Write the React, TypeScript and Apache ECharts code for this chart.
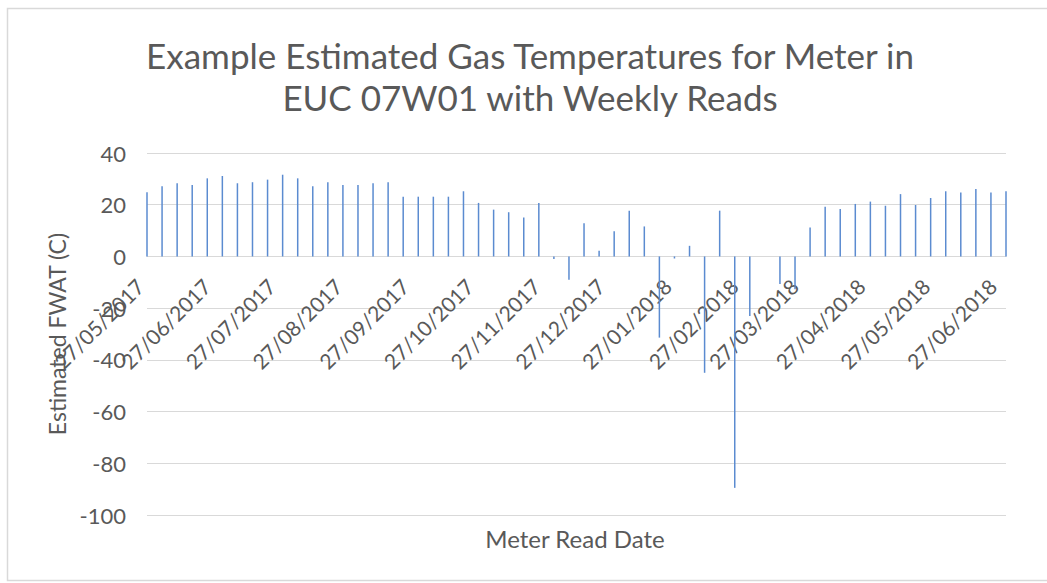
import React, { useEffect, useRef } from "react";
import * as echarts from "echarts";

// Weekly meter reads starting 27/05/2017 (one every 7 days)
const START_DATE = "2017-05-27";
const END_DATE = "2018-06-30";
const weeklyTemps: (number | null)[] = [
  24.8, 27.1, 28.3, 27.6, 30.2, 31.1, 28.3, 28.7, 29.7, 31.6,
  30.2, 27.1, 28.7, 27.6, 27.6, 28.3, 28.7, 23.1, 23.1, 23.1,
  23.1, 25.2, 20.7, 18.1, 17.1, 15.1, 20.7, -1.0, -9.0, 12.8,
  2.2, 9.7, 17.7, 11.6, -31.4, -0.8, 4.1, -45.0, 17.7, -89.5,
  -23.0, null, -10.7, -12.7, 11.2, 19.2, 18.3, 20.3, 21.2, 19.6,
  24.1, 19.9, 22.6, 25.2, 24.7, 26.1, 24.7, 25.2,
];
const titleLines = [
  "Example Estimated Gas Temperatures for Meter in",
  "EUC 07W01 with Weekly Reads",
];
const xAxisTitle = "Meter Read Date";
const yAxisTitle = "Estimated FWAT (C)";
const yMin = -100;
const yMax = 40;
const yStep = 20;

const pad = (n: number) => (n < 10 ? "0" + n : "" + n);
const fmt = (d: Date) =>
  pad(d.getUTCDate()) + "/" + pad(d.getUTCMonth() + 1) + "/" + d.getUTCFullYear();

function buildDays() {
  const days: string[] = [];
  const start = new Date(START_DATE + "T00:00:00Z");
  const end = new Date(END_DATE + "T00:00:00Z");
  for (let t = start.getTime(); t <= end.getTime(); t += 86400000) {
    days.push(fmt(new Date(t)));
  }
  return days;
}

const GRID_TOP = 153;
const GRID_BOTTOM = 68;
const H = 583;

export default function App() {
  const ref = useRef<HTMLDivElement>(null);
  useEffect(() => {
    if (!ref.current) return;
    const chart = echarts.init(ref.current, null, { renderer: "svg" });
    const days = buildDays();
    const data: (number | null)[] = days.map(() => null);
    weeklyTemps.forEach((v, i) => {
      const idx = i * 7;
      if (idx < data.length) data[idx] = v;
    });
    const font = "Lato";
    const grey = "#595959";
    const plotH = H - GRID_TOP - GRID_BOTTOM;
    const zeroOffset = -(plotH * (0 - yMin)) / (yMax - yMin);
    chart.setOption({
      animation: false,
      backgroundColor: "#ffffff",
      grid: {
        left: 147,
        right: 41,
        top: GRID_TOP,
        bottom: GRID_BOTTOM,
        containLabel: false,
        outerBoundsMode: "none",
      },
      xAxis: {
        type: "category",
        data: days,
        boundaryGap: false,
        position: "bottom",
        offset: zeroOffset,
        axisLine: { show: true, onZero: false, lineStyle: { color: "#d9d9d9", width: 1 } },
        axisTick: { show: false },
        splitLine: { show: false },
        axisLabel: {
          interval: (_i: number, v: string) => v.startsWith("27/"),
          rotate: 45,
          margin: 19,
          padding: [0, 10, 0, 0],
          color: grey,
          fontFamily: font,
          fontSize: 21,
        },
      },
      yAxis: {
        type: "value",
        min: yMin,
        max: yMax,
        interval: yStep,
        axisLine: { show: false },
        axisTick: { show: false },
        splitLine: { lineStyle: { color: "#d9d9d9", width: 1 } },
        axisLabel: { color: grey, fontFamily: font, fontSize: 22, margin: 21 },
      },
      series: [
        {
          type: "bar",
          data,
          barWidth: 1.5,
          itemStyle: { color: "#5b8bd0" },
        },
      ],
      graphic: [
        {
          type: "rect",
          shape: { x: 7.5, y: 8.5, width: 1060, height: 572 },
          style: { fill: "none", stroke: "#d9d9d9", lineWidth: 1.5 },
          silent: true,
        },
        {
          type: "text",
          x: 530,
          y: 55,
          style: {
            text: titleLines[0],
            fill: grey,
            font: "35px Lato",
            textAlign: "center",
            textVerticalAlign: "middle",
          },
        },
        {
          type: "text",
          x: 530,
          y: 97,
          style: {
            text: titleLines[1],
            fill: grey,
            font: "35px Lato",
            textAlign: "center",
            textVerticalAlign: "middle",
          },
        },
        {
          type: "text",
          x: 575,
          y: 538,
          style: {
            text: xAxisTitle,
            fill: grey,
            font: "24px Lato",
            textAlign: "center",
            textVerticalAlign: "middle",
          },
        },
        {
          type: "text",
          x: 57,
          y: 334,
          rotation: Math.PI / 2,
          style: {
            text: yAxisTitle,
            fill: grey,
            font: "23px Lato",
            textAlign: "center",
            textVerticalAlign: "middle",
          },
        },
      ],
    });
    return () => chart.dispose();
  }, []);
  return (
    <div
      ref={ref}
      style={{ position: "absolute", left: 0, top: 0, width: 1047, height: 583 }}
    />
  );
}
